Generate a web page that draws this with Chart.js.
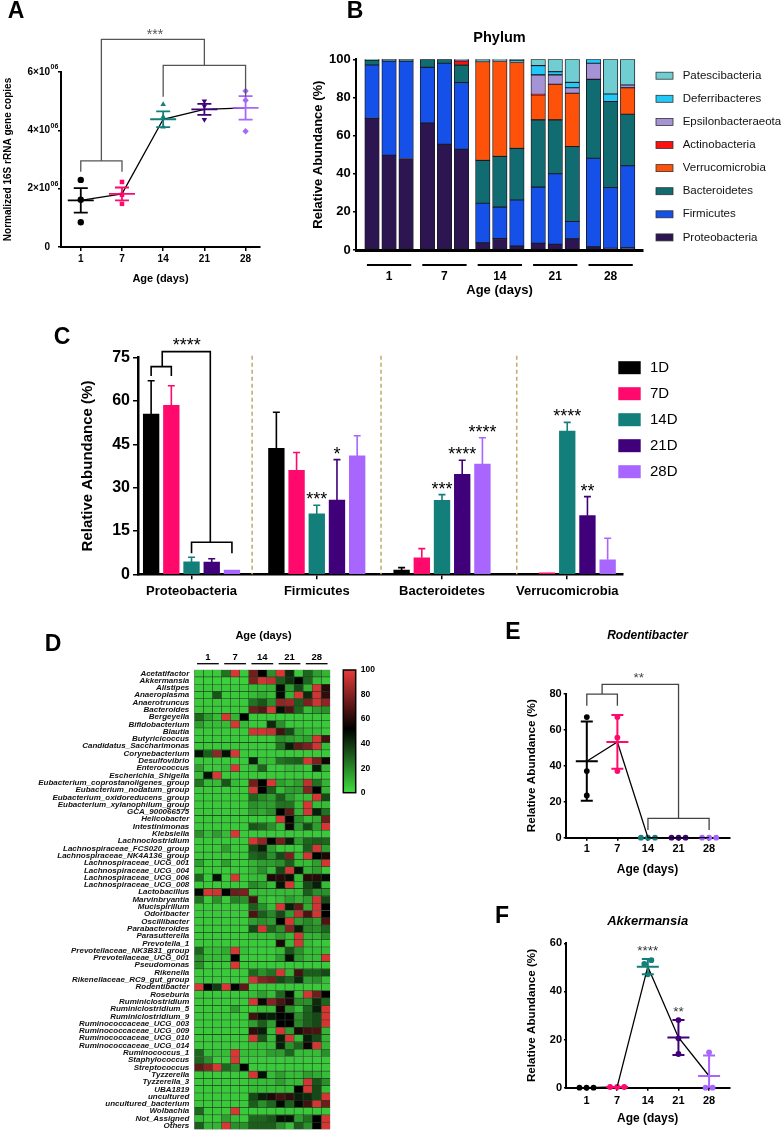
<!DOCTYPE html>
<html>
<head>
<meta charset="utf-8">
<title>Gut microbiota development, days 1-28</title>
<script src="https://cdn.jsdelivr.net/npm/chart.js@4.4.1/dist/chart.umd.min.js"></script>
<style>
  html, body { margin: 0; padding: 0; width: 781px; height: 1130px; overflow: hidden; background: #fff; }
  canvas { position: absolute; }
</style>
</head>
<body>
<canvas id="panel-a"></canvas>
<canvas id="panel-b"></canvas>
<canvas id="panel-c"></canvas>
<canvas id="panel-d"></canvas>
<canvas id="panel-e"></canvas>
<canvas id="panel-f"></canvas>
<script>
/*
 * Data
**/
const ageDays = ['1', '7', '14', '21', '28']
const dayLabels = ['1D', '7D', '14D', '21D', '28D']

// A: normalized 16S rRNA gene copies (x10^6), mean +/- SEM
const copyPoints = [[2.30, 1.62, 0.85], [2.23, 1.79, 1.48], [4.89, 4.46, 4.12], [5.00, 4.83, 4.37], [5.35, 5.03, 3.97]]
const copyMean = [1.60, 1.82, 4.38, 4.72, 4.77]
const copySem = [0.42, 0.22, 0.27, 0.19, 0.40]

// B: phylum share per sample (%), three samples per age
const phyla = ['Proteobacteria', 'Firmicutes', 'Bacteroidetes', 'Verrucomicrobia', 'Actinobacteria', 'Epsilonbacteraeota', 'Deferribacteres', 'Patescibacteria']
const proteobacteria = [69, 49.7, 48, 66.5, 55.4, 52.8, 3.8, 6, 2, 3.5, 3, 5.8, 1.7, 0.9, 1.2]
const firmicutes = [28, 49.3, 51, 29.3, 42.5, 35, 20.7, 16.5, 24.2, 29.5, 37, 9.2, 46.4, 31.8, 43]
const bacteroidetes = [2.5, 0.8, 0.8, 4.2, 2.1, 9.1, 22.5, 26.6, 27.1, 35.2, 28.2, 39.2, 41.4, 45.1, 27]
const verrucomicrobia = [0, 0, 0, 0, 0, 0.3, 51.8, 50, 45, 13.1, 18.7, 28, 0, 0, 13.9]
const actinobacteria = [0, 0, 0, 0, 0, 2, 0, 0, 0, 0.3, 0, 0, 0, 0, 0]
const epsilonbacteraeota = [0, 0, 0, 0, 0, 0.3, 0, 0, 0, 10.2, 4.9, 2.9, 8.4, 0, 1.4]
const deferribacteres = [0, 0, 0, 0, 0, 0, 0.3, 0.4, 1, 4.9, 1.7, 2.8, 2.1, 4, 0]
const patescibacteria = [0.5, 0.2, 0.2, 0, 0, 0.5, 0.9, 0.5, 0.7, 3.3, 6.5, 12.1, 0, 18.2, 13.5]

// C: mean relative abundance (%) and upper error per age, by phylum
const cPhyla = ['Proteobacteria', 'Firmicutes', 'Bacteroidetes', 'Verrucomicrobia']
const abund1D = [55.5, 43.6, 1.5, 0.2]
const abund7D = [58.5, 36.0, 5.7, 0.5]
const abund14D = [4.3, 20.9, 25.6, 49.6]
const abund21D = [4.2, 25.7, 34.6, 20.3]
const abund28D = [1.5, 41.0, 38.2, 5.0]
const err1D = [11.5, 12.5, 0.8, 0]
const err7D = [6.8, 6.2, 3.2, 0]
const err14D = [1.6, 3.0, 2.0, 3.0]
const err21D = [1.2, 14.0, 4.9, 6.6]
const err28D = [0, 7.0, 9.1, 7.5]
const sig14D = ['', '***', '***', '****']
const sig21D = ['', '*', '****', '**']
const sig28D = ['', '', '****', '']

// D: genus heatmap (0-100), 15 samples per genus
const genera = ['Acetatifactor', 'Akkermansia', 'Alistipes', 'Anaeroplasma', 'Anaerotruncus', 'Bacteroides', 'Bergeyella', 'Bifidobacterium', 'Blautia', 'Butyricicoccus', 'Candidatus_Saccharimonas', 'Corynebacterium', 'Desulfovibrio', 'Enterococcus', 'Escherichia_Shigella', 'Eubacterium_coprostanoligenes_group', 'Eubacterium_nodatum_group', 'Eubacterium_oxidoreducens_group', 'Eubacterium_xylanophilum_group', 'GCA_900066575', 'Helicobacter', 'Intestinimonas', 'Klebsiella', 'Lachnoclostridium', 'Lachnospiraceae_FCS020_group', 'Lachnospiraceae_NK4A136_group', 'Lachnospiraceae_UCG_001', 'Lachnospiraceae_UCG_004', 'Lachnospiraceae_UCG_006', 'Lachnospiraceae_UCG_008', 'Lactobacillus', 'Marvinbryantia', 'Mucispirillum', 'Odoribacter', 'Oscillibacter', 'Parabacteroides', 'Parasutterella', 'Prevotella_1', 'Prevotellaceae_NK3B31_group', 'Prevotellaceae_UCG_001', 'Pseudomonas', 'Rikenella', 'Rikenellaceae_RC9_gut_group', 'Rodentibacter', 'Roseburia', 'Ruminiclostridium', 'Ruminiclostridium_5', 'Ruminiclostridium_9', 'Ruminococcaceae_UCG_003', 'Ruminococcaceae_UCG_009', 'Ruminococcaceae_UCG_010', 'Ruminococcaceae_UCG_014', 'Ruminococcus_1', 'Staphylococcus', 'Streptococcus', 'Tyzzerella', 'Tyzzerella_3', 'UBA1819', 'uncultured', 'uncultured_bacterium', 'Wolbachia', 'Not_Assigned', 'Others']
const heatRows = [
  [5, 5, 5, 25, 97, 5, 76, 52, 18, 97, 42, 5, 28, 15, 10],
  [3, 3, 3, 3, 3, 3, 78, 95, 92, 30, 40, 52, 28, 8, 5],
  [5, 5, 5, 5, 5, 5, 8, 8, 10, 50, 15, 35, 10, 96, 60],
  [5, 5, 32, 5, 5, 5, 8, 12, 8, 50, 10, 97, 42, 95, 62],
  [5, 5, 5, 5, 5, 5, 25, 32, 18, 82, 84, 30, 78, 95, 82],
  [5, 5, 5, 5, 5, 5, 75, 70, 97, 48, 68, 28, 8, 15, 18],
  [28, 15, 8, 97, 10, 52, 5, 5, 5, 5, 5, 5, 5, 5, 5],
  [15, 8, 8, 8, 97, 8, 5, 5, 42, 18, 5, 5, 5, 5, 5],
  [5, 5, 5, 5, 5, 5, 95, 95, 93, 66, 35, 12, 8, 8, 5],
  [5, 5, 5, 5, 5, 5, 5, 5, 5, 18, 15, 12, 15, 96, 66],
  [5, 5, 5, 5, 5, 5, 5, 5, 5, 25, 45, 72, 78, 95, 8],
  [48, 30, 82, 48, 97, 5, 5, 5, 5, 5, 5, 5, 5, 5, 5],
  [5, 5, 5, 5, 5, 5, 45, 8, 8, 25, 28, 30, 96, 78, 55],
  [15, 5, 5, 8, 97, 5, 8, 28, 5, 5, 8, 8, 5, 45, 10],
  [8, 48, 97, 5, 5, 5, 5, 5, 5, 5, 5, 5, 5, 5, 5],
  [25, 8, 8, 32, 8, 5, 76, 52, 97, 15, 10, 15, 92, 25, 10],
  [5, 5, 5, 5, 5, 5, 96, 52, 30, 8, 15, 15, 80, 52, 10],
  [5, 5, 5, 5, 5, 5, 28, 20, 15, 30, 15, 8, 8, 96, 35],
  [5, 5, 5, 5, 5, 5, 18, 15, 15, 25, 25, 8, 96, 8, 8],
  [5, 5, 5, 5, 5, 5, 15, 12, 18, 52, 72, 10, 96, 45, 25],
  [5, 5, 5, 5, 5, 5, 5, 5, 5, 96, 52, 18, 8, 12, 75],
  [5, 5, 5, 5, 5, 5, 32, 28, 18, 8, 55, 15, 35, 15, 96],
  [18, 8, 15, 8, 97, 5, 5, 5, 5, 5, 5, 5, 5, 5, 5],
  [5, 5, 5, 5, 5, 5, 96, 82, 52, 76, 45, 15, 28, 30, 28],
  [5, 5, 5, 15, 5, 5, 35, 45, 15, 5, 5, 5, 30, 96, 15],
  [5, 5, 5, 5, 5, 5, 28, 32, 18, 35, 78, 8, 96, 52, 58],
  [15, 5, 5, 15, 5, 5, 10, 15, 15, 18, 30, 8, 8, 15, 96],
  [5, 5, 5, 5, 5, 5, 10, 18, 8, 35, 96, 48, 10, 15, 5],
  [28, 5, 48, 5, 97, 5, 8, 8, 58, 60, 48, 8, 60, 60, 50],
  [5, 5, 5, 5, 5, 5, 20, 15, 8, 48, 96, 8, 35, 45, 8],
  [50, 97, 95, 52, 75, 78, 8, 8, 8, 8, 8, 8, 30, 18, 18],
  [25, 5, 18, 5, 22, 18, 66, 8, 5, 8, 15, 10, 15, 95, 35],
  [5, 5, 5, 5, 5, 5, 30, 18, 8, 96, 45, 72, 12, 95, 52],
  [5, 5, 5, 5, 5, 5, 68, 30, 20, 35, 15, 92, 68, 96, 52],
  [5, 5, 5, 5, 5, 5, 15, 18, 15, 52, 96, 15, 20, 15, 68],
  [5, 5, 5, 5, 5, 5, 35, 96, 28, 18, 80, 45, 20, 18, 28],
  [5, 5, 5, 5, 5, 5, 8, 8, 8, 15, 8, 96, 10, 10, 18],
  [5, 5, 5, 5, 5, 5, 5, 5, 5, 58, 8, 96, 8, 5, 5],
  [28, 8, 8, 12, 97, 8, 5, 5, 5, 8, 32, 18, 8, 8, 8],
  [18, 8, 8, 8, 52, 5, 5, 5, 5, 15, 48, 15, 8, 8, 96],
  [18, 5, 5, 5, 97, 5, 5, 5, 5, 5, 5, 5, 5, 5, 5],
  [5, 5, 5, 5, 5, 5, 28, 18, 25, 96, 10, 66, 30, 30, 35],
  [5, 5, 5, 5, 5, 5, 95, 80, 76, 35, 28, 42, 15, 18, 8],
  [97, 52, 38, 97, 52, 72, 5, 5, 5, 5, 5, 5, 5, 5, 5],
  [5, 5, 5, 5, 5, 5, 8, 15, 8, 28, 50, 8, 96, 76, 52],
  [5, 5, 5, 5, 5, 5, 96, 55, 80, 68, 58, 18, 18, 42, 28],
  [5, 5, 5, 5, 15, 5, 5, 8, 8, 55, 18, 8, 28, 45, 96],
  [5, 5, 5, 5, 5, 5, 66, 48, 45, 52, 52, 18, 30, 35, 96],
  [5, 5, 5, 5, 5, 5, 15, 30, 15, 52, 52, 20, 30, 35, 96],
  [5, 5, 5, 5, 5, 5, 62, 45, 8, 96, 15, 58, 66, 68, 10],
  [5, 5, 5, 5, 5, 5, 96, 32, 8, 45, 96, 8, 45, 35, 10],
  [5, 5, 5, 5, 5, 5, 8, 8, 8, 45, 18, 28, 55, 96, 10],
  [28, 8, 8, 8, 97, 8, 8, 8, 15, 15, 28, 8, 8, 8, 18],
  [28, 18, 5, 5, 97, 5, 5, 5, 5, 5, 5, 5, 5, 5, 5],
  [72, 80, 97, 28, 18, 52, 5, 5, 5, 5, 5, 5, 5, 5, 5],
  [5, 5, 5, 5, 5, 5, 96, 48, 8, 15, 8, 8, 15, 12, 8],
  [5, 5, 5, 5, 5, 5, 8, 8, 8, 15, 8, 8, 96, 32, 18],
  [5, 5, 5, 5, 5, 5, 8, 8, 8, 8, 8, 52, 96, 35, 8],
  [5, 5, 5, 5, 5, 5, 35, 45, 58, 66, 62, 45, 42, 35, 96],
  [5, 5, 5, 5, 5, 5, 30, 18, 28, 50, 30, 50, 66, 96, 75],
  [28, 5, 5, 5, 97, 5, 5, 5, 5, 5, 5, 5, 5, 5, 5],
  [8, 5, 5, 15, 8, 5, 28, 28, 32, 48, 48, 15, 25, 52, 96],
  [30, 10, 10, 97, 18, 18, 30, 30, 30, 18, 8, 30, 18, 52, 96]
]
const heatScaleTicks = [0, 20, 40, 60, 80, 100]

// E: Rodentibacter (%), mean +/- SD
const rodentPoints = [[67, 37, 23.5], [67, 55.6, 37], [0, 0, 0], [0, 0, 0], [0, 0, 0]]
const rodentMean = [42.5, 53.2, 0, 0, 0]
const rodentSd = [22, 14.9, 0, 0, 0]

// F: Akkermansia (%), mean +/- SD
const akkPoints = [[0, 0, 0], [0.3, 0.3, 0.3], [53, 51.4, 47.1], [28.1, 20.5, 14], [14.7, 0, 0]]
const akkMean = [0, 0.3, 50.3, 20.85, 4.85]
const akkSd = [0, 0, 3.2, 7.25, 8.5]
const akkSig = ['', '', '****', '**', '']

/*
 * Styles
**/
const FONT = '"Liberation Sans", Arial, Helvetica, sans-serif'
Chart.defaults.font.family = FONT
Chart.defaults.color = '#000'

const dayColors = ['#000000', '#ff0a6c', '#127f7b', '#40007a', '#a866ff']
const phylumColors = ['#2c1550', '#1550e8', '#106c70', '#fe520a', '#ff1010', '#a593d6', '#22c8f8', '#70cdd2']

/*
 * Helpers
**/
function placeCanvas(id, box) {
  const c = document.getElementById(id)
  c.width = box.w
  c.height = box.h
  Object.assign(c.style, { left: box.x + 'px', top: box.y + 'px', width: box.w + 'px', height: box.h + 'px' })
  return c
}

function overlay(id, draw) {
  return {
    id: id,
    afterDatasetsDraw(chart) {
      const ctx = chart.ctx
      ctx.save()
      draw(chart, ctx)
      ctx.restore()
    }
  }
}

function text(ctx, str, x, y, font, align, color) {
  ctx.font = font
  ctx.fillStyle = color || '#000'
  ctx.textAlign = align || 'center'
  ctx.textBaseline = 'middle'
  ctx.fillText(str, x, y)
}

// asterisks sit high in the em box, so shift down to centre the glyphs on y
function stars(ctx, str, x, y, size, color) {
  text(ctx, str, x, y + 0.22 * size, size + 'px ' + FONT, 'center', color)
}

function letter(ctx, box, str, x, y) {
  text(ctx, str, x - box.x, y - box.y, 'bold 23px ' + FONT)
}

function bracket(ctx, xs, ys, b) {
  const [x1, x2, top, left, right] = b
  const px1 = xs.getPixelForValue(x1)
  const px2 = xs.getPixelForValue(x2)
  ctx.beginPath()
  ctx.moveTo(px1, ys.getPixelForValue(left))
  ctx.lineTo(px1, ys.getPixelForValue(top))
  ctx.lineTo(px2, ys.getPixelForValue(top))
  ctx.lineTo(px2, ys.getPixelForValue(right))
  ctx.stroke()
}

// side by side offsets for replicate dots with (nearly) equal values
function spread(values, gap, step) {
  const off = values.map(() => 0)
  const idx = values.map((v, i) => i).sort((a, b) => values[a] - values[b])
  let start = 0
  for (let k = 1; k <= idx.length; k++) {
    if (k === idx.length || values[idx[k]] - values[idx[k - 1]] > gap) {
      const n = k - start
      for (let m = 0; m < n; m++) off[idx[start + m]] = (m - (n - 1) / 2) * step
      start = k
    }
  }
  return off
}

function tickMarks(len) {
  return { drawOnChartArea: false, drawTicks: len > 0, tickLength: len, color: '#000', lineWidth: 1.5, offset: false }
}

function axisLine(width) {
  return { display: true, color: '#000', width: width }
}

function heatColor(v) {
  const green = [64, 222, 64]
  const red = [232, 58, 58]
  const mid = 52
  let c, f
  if (v <= mid) { c = green; f = 1 - v / mid } else { c = red; f = (v - mid) / (100 - mid) }
  return 'rgb(' + c.map(k => Math.round(k * f)).join(',') + ')'
}

/*
 * Dot plot with mean line, error bars and connecting line (A, E, F)
**/
function dotPlot(o) {
  const canvas = placeCanvas(o.id, o.box)
  const datasets = o.points.map((vals, g) => {
    const off = spread(vals, o.swarmGap, 0.23)
    return {
      type: 'scatter',
      data: vals.map((v, k) => ({ x: g + off[k], y: v })),
      pointStyle: o.shapes[g][0],
      rotation: o.shapes[g][1],
      pointRadius: o.dotRadius,
      backgroundColor: dayColors[g],
      borderWidth: 0,
      clip: false,
      order: 2
    }
  })
  datasets.push({
    type: 'line',
    data: o.means.map((v, g) => ({ x: g, y: v })),
    borderColor: '#000',
    borderWidth: 1.3,
    pointRadius: 0,
    tension: 0,
    clip: false,
    order: 1
  })

  return new Chart(canvas, {
    type: 'scatter',
    data: { datasets: datasets },
    options: {
      responsive: false,
      animation: false,
      devicePixelRatio: 1,
      layout: { padding: { left: 0, top: o.title ? 0 : o.plot.t - o.box.y, right: o.box.x + o.box.w - o.plot.r, bottom: 0 } },
      plugins: {
        legend: { display: false },
        tooltip: { enabled: false },
        title: o.title ? {
          display: true, text: o.title, fullSize: false,
          font: { size: o.titleSize, weight: 'bold', style: 'italic' },
          padding: o.titlePad
        } : { display: false }
      },
      scales: {
        x: {
          type: 'linear', min: o.xMin, max: o.xMax, offset: false,
          afterBuildTicks: (s) => { s.ticks = ageDays.map((_, i) => ({ value: i })) },
          ticks: { callback: (v, i) => ageDays[i], font: { size: o.tickSize, weight: 'bold' }, padding: o.xTickPad, autoSkip: false, maxRotation: 0 },
          grid: tickMarks(o.xTickLen),
          border: axisLine(2),
          title: { display: true, text: 'Age (days)', font: { size: o.xTitleSize, weight: 'bold' }, padding: { top: 0, bottom: o.xTitlePad } },
          afterFit: (s) => { s.height = o.box.y + o.box.h - o.plot.b }
        },
        y: {
          min: 0, max: o.yMax,
          ticks: { stepSize: o.yStep, callback: o.yLabel, font: { size: o.tickSize, weight: 'bold' }, padding: o.yTickPad },
          grid: tickMarks(o.yTickLen),
          border: axisLine(2),
          title: { display: true, text: o.yTitle, font: { size: o.yTitleSize, weight: 'bold' }, padding: { top: o.yTitlePad, bottom: 0 } },
          afterFit: (s) => { s.width = o.plot.l - o.box.x }
        }
      }
    },
    plugins: [overlay('dots-' + o.id, (chart, ctx) => {
      const xs = chart.scales.x
      const ys = chart.scales.y
      if (o.yExponent) {
        // superscript exponent after each non-zero tick label
        ys.ticks.forEach(t => {
          if (t.value === 0) return
          text(ctx, o.yExponent, ys.right - o.yTickLen - o.yTickPad + 0.5, ys.getPixelForValue(t.value) - 4.5, 'bold 7px ' + FONT, 'left')
        })
      }
      ctx.lineWidth = o.errWidth
      o.means.forEach((m, g) => {
        const e = o.errs[g]
        if (m === 0 && e === 0) return
        const cx = xs.getPixelForValue(g)
        const mid = ys.getPixelForValue(m)
        const top = ys.getPixelForValue(m + e)
        const low = m - e
        const bot = ys.getPixelForValue(Math.max(low, 0))
        ctx.strokeStyle = dayColors[g]
        ctx.beginPath()
        ctx.moveTo(cx - o.meanHalf, mid); ctx.lineTo(cx + o.meanHalf, mid)
        if (e > 0) {
          ctx.moveTo(cx, top); ctx.lineTo(cx, bot)
          ctx.moveTo(cx - o.capHalf, top); ctx.lineTo(cx + o.capHalf, top)
          if (low >= 0) { ctx.moveTo(cx - o.capHalf, bot); ctx.lineTo(cx + o.capHalf, bot) }
        }
        ctx.stroke()
      })
      ctx.strokeStyle = o.bracketColor
      ctx.lineWidth = 1.3
      o.brackets.forEach(b => bracket(ctx, xs, ys, b))
      o.notes.forEach(n => stars(ctx, n.t, xs.getPixelForValue(n.x), ys.getPixelForValue(n.y), o.starSize, o.bracketColor))
      if (o.sig) {
        o.sig.forEach((t, g) => {
          if (!t) return
          stars(ctx, t, xs.getPixelForValue(g), ys.getPixelForValue(o.means[g] + o.errs[g]) - 10.5, o.starSize, '#333')
        })
      }
      letter(ctx, o.box, o.letter[0], o.letter[1], o.letter[2])
    })]
  })
}

/*
 * Panel A
**/
dotPlot({
  id: 'panel-a',
  box: { x: 0, y: 0, w: 270, h: 300 },
  plot: { l: 61, t: 72, r: 260, b: 247 },
  points: copyPoints, means: copyMean, errs: copySem,
  shapes: [['circle', 0], ['rect', 0], ['triangle', 0], ['triangle', 180], ['rectRot', 0]],
  dotRadius: 3.2, swarmGap: 0.1,
  xMin: -0.48, xMax: 4.35, yMax: 6, yStep: 2,
  yLabel: (v) => v === 0 ? '0' : v + '×10',
  yExponent: '06',
  tickSize: 10, xTickPad: 2, xTickLen: 4, yTickPad: 8, yTickLen: 3,
  xTitleSize: 11, xTitlePad: 14.4,
  yTitle: 'Normalized 16S rRNA gene copies', yTitleSize: 10, yTitlePad: 2,
  meanHalf: 13, capHalf: 7, errWidth: 1.8,
  bracketColor: '#555', starSize: 14,
  brackets: [[0, 1, 2.95, 2.58, 2.58], [2, 4, 6.23, 5.15, 5.15], [0.5, 3, 7.12, 2.95, 6.23]],
  notes: [{ t: '***', x: 1.8, y: 7.37 }],
  letter: ['A', 16, 12]
})

/*
 * Panel B: stacked phylum bars
**/
const phylumShares = [proteobacteria, firmicutes, bacteroidetes, verrucomicrobia, actinobacteria, epsilonbacteraeota, deferribacteres, patescibacteria]
const groupGapB = 3.25
const barPosB = ageDays.flatMap((_, g) => [0, 1, 2].map(j => g * groupGapB + j))
const boxB = { x: 270, y: 0, w: 511, h: 305 }

new Chart(placeCanvas('panel-b', boxB), {
  type: 'bar',
  data: {
    datasets: phylumShares.map((vals, p) => ({
      label: phyla[p],
      data: vals.map((v, k) => ({ x: barPosB[k], y: v })),
      backgroundColor: phylumColors[p],
      borderColor: '#1a1a22',
      borderWidth: 0.9,
      borderSkipped: false,
      barThickness: 14.5
    }))
  },
  options: {
    responsive: false,
    animation: false,
    devicePixelRatio: 1,
    layout: { padding: { left: 0, top: 0, right: 138, bottom: 0 } },
    plugins: {
      legend: { display: false },
      tooltip: { enabled: false },
      title: { display: true, text: 'Phylum', fullSize: false, font: { size: 14.5, weight: 'bold' }, padding: { top: 29.3, bottom: 12.6 } }
    },
    scales: {
      x: {
        type: 'linear', stacked: true, min: -0.94, max: 15.9, offset: false,
        afterBuildTicks: (s) => { s.ticks = ageDays.map((_, g) => ({ value: g * groupGapB + 1 })) },
        ticks: { callback: (v, i) => ageDays[i], font: { size: 12, weight: 'bold' }, padding: 19.8, autoSkip: false, maxRotation: 0 },
        grid: tickMarks(0),
        border: axisLine(3),
        title: { display: true, text: 'Age (days)', font: { size: 13, weight: 'bold' }, padding: { top: 0, bottom: 7.2 } },
        afterFit: (s) => { s.height = 55 }
      },
      y: {
        stacked: true, min: 0, max: 100,
        ticks: { stepSize: 20, font: { size: 13, weight: 'bold' }, padding: 2.3 },
        grid: tickMarks(3),
        border: axisLine(2),
        title: { display: true, text: 'Relative Abundance (%)', font: { size: 13, weight: 'bold' }, padding: { top: 40.2, bottom: 0 } },
        afterFit: (s) => { s.width = 86 }
      }
    }
  },
  plugins: [overlay('b-extras', (chart, ctx) => {
    const xs = chart.scales.x
    ctx.strokeStyle = '#000'
    ctx.lineWidth = 2
    ageDays.forEach((_, g) => {
      ctx.beginPath()
      ctx.moveTo(xs.getPixelForValue(g * groupGapB - 0.3), 265 - boxB.y)
      ctx.lineTo(xs.getPixelForValue(g * groupGapB + 2.3), 265 - boxB.y)
      ctx.stroke()
    })
    // legend, top entry is the last phylum in the stack
    const order = phyla.map((_, i) => phyla.length - 1 - i)
    order.forEach((p, row) => {
      const cy = 75.7 + row * 23.1 - boxB.y
      ctx.fillStyle = phylumColors[p]
      ctx.fillRect(656 - boxB.x, cy - 3.5, 17, 7)
      ctx.strokeStyle = '#333'
      ctx.lineWidth = 0.8
      ctx.strokeRect(656 - boxB.x, cy - 3.5, 17, 7)
      text(ctx, phyla[p], 682.7 - boxB.x, cy, '11.5px ' + FONT, 'left', '#111')
    })
    letter(ctx, boxB, 'B', 355, 12)
  })]
})

/*
 * Panel C: grouped bars by phylum
**/
const dayAbund = [abund1D, abund7D, abund14D, abund21D, abund28D]
const dayErr = [err1D, err7D, err14D, err21D, err28D]
const daySig = [null, null, sig14D, sig21D, sig28D]
const groupStepC = 6.2
const boxC = { x: 0, y: 300, w: 781, h: 330 }
const barX = (g, d) => g * groupStepC + d - 2

new Chart(placeCanvas('panel-c', boxC), {
  type: 'bar',
  data: {
    datasets: dayAbund.map((vals, d) => ({
      label: dayLabels[d],
      data: vals.map((v, g) => ({ x: barX(g, d), y: v })),
      backgroundColor: dayColors[d],
      grouped: false,
      barPercentage: 1,
      categoryPercentage: 1,
      maxBarThickness: 15.7
    }))
  },
  options: {
    responsive: false,
    animation: false,
    devicePixelRatio: 1,
    layout: { padding: { left: 0, top: 57.7, right: 158, bottom: 0 } },
    plugins: { legend: { display: false }, tooltip: { enabled: false } },
    scales: {
      x: {
        type: 'linear', min: -2.65, max: 21.36, offset: false,
        afterBuildTicks: (s) => { s.ticks = cPhyla.map((_, g) => ({ value: g * groupStepC })) },
        ticks: { callback: (v, i) => cPhyla[i], font: { size: 13, weight: 'bold' }, padding: 4.6, autoSkip: false, maxRotation: 0 },
        grid: tickMarks(5),
        border: axisLine(2.5),
        afterFit: (s) => { s.height = 55.7 }
      },
      y: {
        min: 0, max: 75,
        ticks: { stepSize: 15, font: { size: 16, weight: 'bold' }, padding: 3 },
        grid: tickMarks(5),
        border: axisLine(2.5),
        title: { display: true, text: 'Relative Abundance (%)', font: { size: 15, weight: 'bold' }, padding: { top: 79, bottom: 0 } },
        afterFit: (s) => { s.width = 138 }
      }
    }
  },
  plugins: [overlay('c-extras', (chart, ctx) => {
    const xs = chart.scales.x
    const ys = chart.scales.y
    // dashed separators between phyla
    ctx.strokeStyle = '#c4ae72'
    ctx.lineWidth = 1.6
    ctx.setLineDash([4, 3])
    ;[3.0, 9.38, 16.1].forEach(v => {
      const px = xs.getPixelForValue(v)
      ctx.beginPath()
      ctx.moveTo(px, ys.getPixelForValue(75) - 2)
      ctx.lineTo(px, ys.getPixelForValue(0))
      ctx.stroke()
    })
    ctx.setLineDash([])
    // upper error bars and significance marks
    dayAbund.forEach((vals, d) => {
      vals.forEach((v, g) => {
        const e = dayErr[d][g]
        const cx = xs.getPixelForValue(barX(g, d))
        const top = ys.getPixelForValue(v + e)
        if (e > 0) {
          ctx.strokeStyle = dayColors[d]
          ctx.lineWidth = 1.6
          ctx.beginPath()
          ctx.moveTo(cx, ys.getPixelForValue(v)); ctx.lineTo(cx, top)
          ctx.moveTo(cx - 3.5, top); ctx.lineTo(cx + 3.5, top)
          ctx.stroke()
        }
        if (daySig[d] && daySig[d][g]) stars(ctx, daySig[d][g], cx, top - 9, 18)
      })
    })
    // Proteobacteria brackets
    ctx.strokeStyle = '#000'
    ctx.lineWidth = 1.6
    ;[[-2, -1, 71.9, 68.7, 68.7], [-1.45, 0.93, 77.1, 71.9, 11.1], [0, 2, 11.1, 7.3, 7.3]].forEach(b => bracket(ctx, xs, ys, b))
    stars(ctx, '****', xs.getPixelForValue(-0.24), ys.getPixelForValue(80.5), 18)
    // legend
    dayLabels.forEach((t, d) => {
      const cy = 367.7 + d * 26 - boxC.y
      ctx.fillStyle = dayColors[d]
      ctx.fillRect(618.3, cy - 6.5, 22.4, 13)
      text(ctx, t, 650, cy, '15px ' + FONT, 'left')
    })
    letter(ctx, boxC, 'C', 62, 338)
  })]
})

/*
 * Panel D: heatmap as stacked horizontal bars, one dataset per sample column
**/
const boxD = { x: 0, y: 630, w: 400, h: 520 }
const sampleCols = ageDays.flatMap(a => [a + 'a', a + 'b', a + 'c'])

new Chart(placeCanvas('panel-d', boxD), {
  type: 'bar',
  data: {
    labels: genera,
    datasets: sampleCols.map((name, c) => ({
      label: name,
      data: genera.map(() => 1),
      backgroundColor: heatRows.map(row => heatColor(row[c])),
      borderColor: 'rgba(18,48,18,0.85)',
      borderWidth: 0.6,
      borderSkipped: false,
      barPercentage: 1,
      categoryPercentage: 1
    }))
  },
  options: {
    indexAxis: 'y',
    responsive: false,
    animation: false,
    devicePixelRatio: 1,
    layout: { padding: { left: 0, top: 39.65, right: 69.7, bottom: 20.5 } },
    plugins: { legend: { display: false }, tooltip: { enabled: false } },
    scales: {
      x: { type: 'linear', stacked: true, min: 0, max: sampleCols.length, display: false },
      y: {
        stacked: true,
        ticks: { autoSkip: false, font: { size: 8, weight: 'bold', style: 'italic' }, padding: 5, color: '#111' },
        grid: { display: false, drawTicks: false },
        border: { display: false },
        afterFit: (s) => { s.width = 194.3 }
      }
    }
  },
  plugins: [overlay('d-extras', (chart, ctx) => {
    const xs = chart.scales.x
    text(ctx, 'Age (days)', 263.5, 636 - boxD.y, 'bold 11px ' + FONT)
    ctx.strokeStyle = '#000'
    ctx.lineWidth = 1.3
    ageDays.forEach((a, g) => {
      text(ctx, a, xs.getPixelForValue(g * 3 + 1.5), 657.3 - boxD.y, 'bold 9.5px ' + FONT)
      ctx.beginPath()
      ctx.moveTo(xs.getPixelForValue(g * 3 + 0.3), 663.7 - boxD.y)
      ctx.lineTo(xs.getPixelForValue(g * 3 + 2.7), 663.7 - boxD.y)
      ctx.stroke()
    })
    // colour bar
    const cb = { x: 343.3 - boxD.x, y: 670 - boxD.y, w: 12.4, h: 122.7 }
    const grad = ctx.createLinearGradient(0, cb.y + cb.h, 0, cb.y)
    for (let v = 0; v <= 100; v += 4) grad.addColorStop(v / 100, heatColor(v))
    ctx.fillStyle = grad
    ctx.fillRect(cb.x, cb.y, cb.w, cb.h)
    ctx.lineWidth = 1.5
    ctx.strokeRect(cb.x, cb.y, cb.w, cb.h)
    heatScaleTicks.forEach(v => {
      text(ctx, String(v), cb.x + cb.w + 5, cb.y + cb.h * (1 - v / 100), 'bold 8.5px ' + FONT, 'left')
    })
    letter(ctx, boxD, 'D', 53, 645)
  })]
})

/*
 * Panels E and F
**/
dotPlot({
  id: 'panel-e',
  box: { x: 470, y: 620, w: 311, h: 260 },
  plot: { l: 565.7, t: 693.7, r: 729.3, b: 837.7 },
  points: rodentPoints, means: rodentMean, errs: rodentSd,
  shapes: ageDays.map(() => ['circle', 0]),
  dotRadius: 2.9, swarmGap: 1.5,
  xMin: -0.69, xMax: 4.66, yMax: 80, yStep: 20,
  title: 'Rodentibacter', titleSize: 12, titlePad: { top: 8.8, bottom: 50.5 },
  tickSize: 11, xTickPad: 2, xTickLen: 3, yTickPad: 2, yTickLen: 2,
  xTitleSize: 12, xTitlePad: 2.8,
  yTitle: 'Relative Abundance (%)', yTitleSize: 11.7, yTitlePad: 55,
  meanHalf: 11, capHalf: 6, errWidth: 2,
  bracketColor: '#444', starSize: 13.5,
  brackets: [[0, 1, 79.8, 73.3, 73.3], [2, 4, 10.7, 4.3, 4.3], [0.5, 3, 85.2, 79.8, 10.7]],
  notes: [{ t: '**', x: 1.7, y: 90.4 }],
  letter: ['E', 513, 633]
})

dotPlot({
  id: 'panel-f',
  box: { x: 470, y: 880, w: 311, h: 250 },
  plot: { l: 566, t: 943.3, r: 729.3, b: 1087.7 },
  points: akkPoints, means: akkMean, errs: akkSd,
  shapes: ageDays.map(() => ['circle', 0]),
  dotRadius: 2.9, swarmGap: 2,
  xMin: -0.67, xMax: 4.66, yMax: 60, yStep: 20,
  title: 'Akkermansia', titleSize: 13, titlePad: { top: 33.9, bottom: 13.8 },
  tickSize: 11, xTickPad: 3.7, xTickLen: 3, yTickPad: 2, yTickLen: 2,
  xTitleSize: 12, xTitlePad: 4.5,
  yTitle: 'Relative Abundance (%)', yTitleSize: 11.7, yTitlePad: 55,
  meanHalf: 11, capHalf: 6, errWidth: 2,
  bracketColor: '#333', starSize: 13.5,
  brackets: [], notes: [], sig: akkSig,
  letter: ['F', 502, 917]
})
</script>
</body>
</html>
